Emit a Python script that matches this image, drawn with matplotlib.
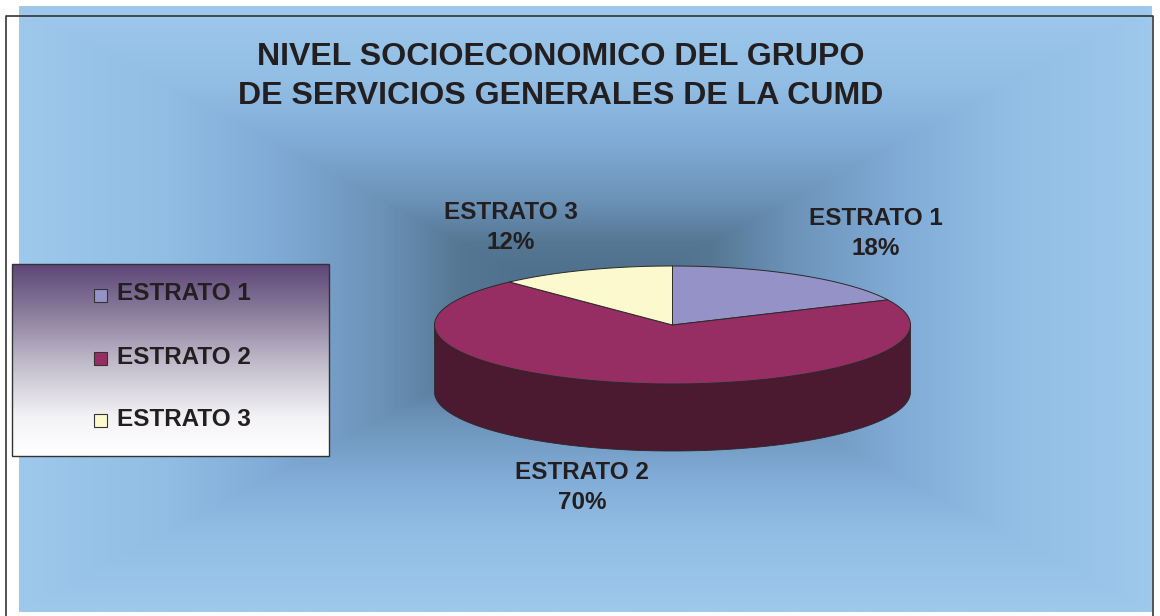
import numpy as np
import matplotlib
matplotlib.use("Agg")
import matplotlib.pyplot as plt
from matplotlib.patches import Polygon, Rectangle
from matplotlib.colors import LinearSegmentedColormap

labels = ["ESTRATO 1", "ESTRATO 2", "ESTRATO 3"]
values = [18, 70, 12]
top_colors = ["#9492C6", "#972E63", "#FDF9CE"]
side_colors = ["#4A4A63", "#4B1930", "#7E7C67"]
title = "NIVEL SOCIOECONOMICO DEL GRUPO\nDE SERVICIOS GENERALES DE LA CUMD"

ink = "#231F20"
plt.rcParams['font.family'] = ['Liberation Sans', 'DejaVu Sans']

fig = plt.figure(figsize=(11.6, 6.16), dpi=100)
ax = fig.add_axes([0, 0, 1, 1])
ax.set_xlim(0, 1160)
ax.set_ylim(616, 0)
ax.axis("off")

#%% background, rectangular gradient out from the middle
x0, x1, y0, y1 = 19, 1152, 6, 612
xx, yy = np.meshgrid(np.linspace(-1, 1, 567), np.linspace(-1, 1, 303))
tt = np.maximum(np.abs(xx), np.abs(yy))
bgmap = LinearSegmentedColormap.from_list("bg", [
    (0.0, "#4A6A88"), (0.22, "#557793"), (0.36, "#6C92B8"),
    (0.55, "#80ABD6"), (0.75, "#92BEE5"), (1.0, "#9EC8EC")])
ax.imshow(tt, cmap=bgmap, vmin=0, vmax=1, extent=(x0, x1, y1, y0),
          aspect="auto", interpolation="bilinear", zorder=0)
ax.set_xlim(0, 1160)
ax.set_ylim(616, 0)

# outer frame
ax.plot([6, 6, 1153, 1153], [616, 16, 16, 616], color="#333333", lw=1.2, zorder=1)

ax.text(561, 76.5, title, ha="center", va="center", fontsize=23.1, fontweight="bold",
        color=ink, linespacing=1.35, zorder=5)

#%% 3d pie
cx, cy, rx, ry, depth = 672.5, 325, 238, 59, 67
fracs = np.array(values) / sum(values)
edges = np.concatenate([[0], np.cumsum(fracs)]) * 2 * np.pi

def rim(a, b, n=160):
    th = np.linspace(a, b, n)
    return cx + rx * np.sin(th), cy - ry * np.cos(th)

# front wall, only the part of the rim facing the viewer
for ii in range(len(values)):
    a = max(edges[ii], np.pi / 2)
    b = min(edges[ii + 1], 3 * np.pi / 2)
    if a < b:
        xs, ys = rim(a, b)
        pts = np.r_[np.c_[xs, ys], np.c_[xs[::-1], ys[::-1] + depth]]
        ax.add_patch(Polygon(pts, closed=True, fc=side_colors[ii], ec="#2A2A2A",
                             lw=0.6, zorder=2))

for ii in range(len(values)):
    xs, ys = rim(edges[ii], edges[ii + 1])
    pts = np.r_[[[cx, cy]], np.c_[xs, ys]]
    ax.add_patch(Polygon(pts, closed=True, fc=top_colors[ii], ec="#2A2A2A",
                         lw=0.7, zorder=3))

label_pos = [(875.5, 233.5), (582, 487.5), (511, 227.5)]
for ii in range(len(values)):
    ax.text(label_pos[ii][0], label_pos[ii][1], labels[ii] + "\n" + str(values[ii]) + "%",
            ha="center", va="center", fontsize=17.5, fontweight="bold", color=ink,
            linespacing=1.4, zorder=5)

#%% legend box
lx0, lx1, ly0, ly1 = 12, 329, 264, 456
legmap = LinearSegmentedColormap.from_list("leg", [
    (0.0, "#5E4678"), (0.25, "#8A7D9C"), (0.5, "#BDB8C8"), (0.8, "#F3F3F6"), (1.0, "#FFFFFF")])
ax.imshow(np.linspace(0, 1, 192).reshape(-1, 1), cmap=legmap, extent=(lx0, lx1, ly1, ly0),
          aspect="auto", zorder=6)
ax.set_xlim(0, 1160)
ax.set_ylim(616, 0)
ax.add_patch(Rectangle((lx0, ly0), lx1 - lx0, ly1 - ly0, fc="none", ec="#333333", lw=1, zorder=7))

leg_y = [295, 358, 420]
for ii in range(len(labels)):
    ax.add_patch(Rectangle((94, leg_y[ii] - 6.5), 13, 13, fc=top_colors[ii], ec="#333333",
                           lw=0.8, zorder=7))
    ax.text(117, leg_y[ii] - 1, labels[ii], ha="left", va="center", fontsize=17.5,
            fontweight="bold", color=ink, zorder=7)

plt.savefig("out.png", dpi=100)
